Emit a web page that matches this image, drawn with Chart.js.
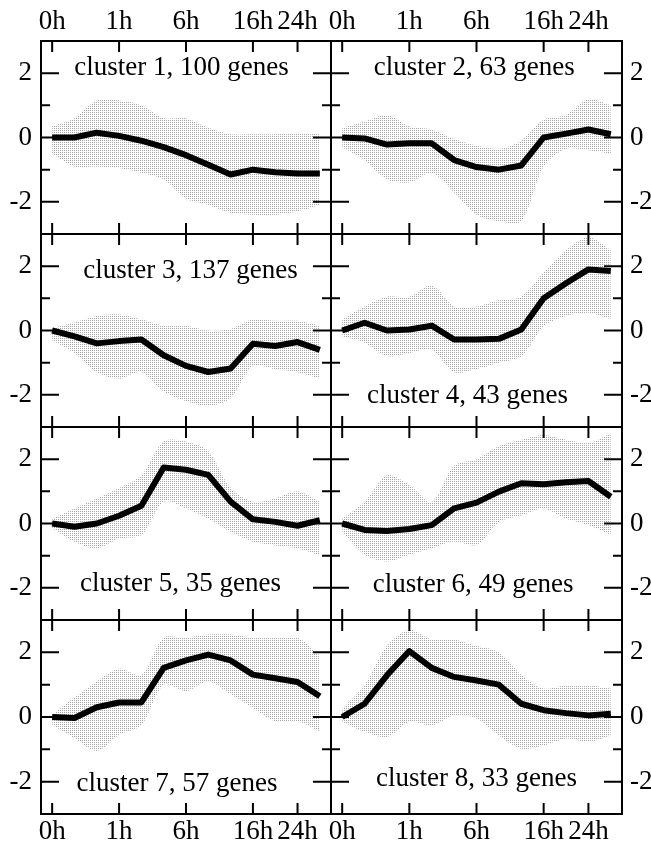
<!DOCTYPE html>
<html>
<head>
<meta charset="utf-8">
<script src="https://cdn.jsdelivr.net/npm/chart.js"></script>
<style>
  body { margin: 0; background: #fff; }
  #wrap { position: relative; width: 651px; height: 848px; overflow: hidden; background: #fff; }
  #wrap canvas { position: absolute; }
</style>
</head>
<body>
<div id="wrap"></div>
<script>
// time points: only some of them carry a label on the axis
const timeLabels = ["0h", "", "", "1h", "", "", "6h", "", "", "16h", "", "24h", ""];
const yTicks = [-2, 0, 2];
const yMinor = [-1, 1];

const clusterNames = [
  "cluster 1, 100 genes", "cluster 2, 63 genes",
  "cluster 3, 137 genes", "cluster 4, 43 genes",
  "cluster 5, 35 genes", "cluster 6, 49 genes",
  "cluster 7, 57 genes", "cluster 8, 33 genes"
];

// mean profile (thick line) and spread of member genes (stippled band)
const c1Mean = [0, 0, 0.15, 0.05, -0.1, -0.3, -0.55, -0.85, -1.15, -1.0, -1.08, -1.12, -1.12];
const c1High = [0.35, 0.6, 1.15, 1.15, 1.0, 0.6, 0.6, 0.3, 0.1, 0.1, 0.1, 0.15, 0.1];
const c1Low  = [-0.5, -0.9, -0.9, -0.95, -1.1, -1.3, -1.9, -2.1, -2.35, -2.4, -2.4, -2.3, -2.1];

const c2Mean = [0, -0.03, -0.22, -0.18, -0.18, -0.7, -0.92, -1.0, -0.87, 0, 0.12, 0.25, 0.1];
const c2High = [0.3, 0.5, 0.7, 0.35, 0.25, -0.05, -0.25, -0.35, -0.1, 0.55, 0.7, 1.2, 1.0];
const c2Low  = [-0.3, -0.7, -1.3, -1.4, -1.1, -1.7, -2.4, -2.6, -2.6, -0.9, -0.35, -0.4, -0.5];

const c3Mean = [0, -0.18, -0.4, -0.33, -0.28, -0.77, -1.1, -1.29, -1.18, -0.41, -0.48, -0.36, -0.6];
const c3High = [0.08, 0.25, 0.45, 0.5, 0.35, 0.15, 0.15, 0.0, 0.05, 0.35, 0.3, 0.3, 0.15];
const c3Low  = [-0.3, -0.7, -1.3, -1.5, -1.3, -1.9, -2.2, -2.35, -2.1, -1.1, -1.2, -1.3, -1.5];

const c4Mean = [0, 0.24, 0, 0.03, 0.15, -0.28, -0.28, -0.26, 0.03, 1.0, 1.47, 1.9, 1.85];
const c4High = [0.35, 0.75, 1.05, 1.05, 1.4, 0.75, 0.75, 0.95, 1.05, 1.8, 2.5, 2.9, 2.5];
const c4Low  = [-0.18, -0.38, -0.8, -0.7, -0.6, -1.3, -1.2, -1.0, -0.8, 0.13, 0.45, 0.55, 0.35];

const c5Mean = [0, -0.1, 0, 0.24, 0.55, 1.74, 1.67, 1.51, 0.68, 0.13, 0.05, -0.07, 0.1];
const c5High = [0.15, 0.47, 0.78, 1.1, 1.5, 2.55, 2.55, 2.25, 1.1, 0.68, 0.78, 1.0, 0.68];
const c5Low  = [-0.15, -0.57, -0.78, -0.47, -0.36, 0.68, 0.47, 0.15, -0.26, -0.57, -0.68, -0.78, -1.0];

const c6Mean = [0, -0.2, -0.23, -0.17, -0.05, 0.47, 0.65, 0.99, 1.25, 1.22, 1.28, 1.32, 0.83];
const c6High = [0.15, 0.67, 1.5, 1.2, 0.67, 1.8, 2.0, 2.4, 2.6, 2.75, 2.6, 2.5, 2.8];
const c6Low  = [-0.25, -0.97, -1.18, -0.97, -0.77, -0.56, -0.67, 0.05, 0.25, 0.46, 0.15, -0.05, -0.36];

const c7Mean = [0, -0.03, 0.3, 0.45, 0.45, 1.52, 1.75, 1.93, 1.75, 1.31, 1.2, 1.08, 0.64];
const c7High = [0.07, 0.6, 1.1, 1.5, 1.3, 2.45, 2.45, 2.55, 2.55, 2.45, 2.45, 2.45, 1.9];
const c7Low  = [-0.25, -0.65, -1.05, -0.55, -0.25, 1.0, 0.8, 1.1, 0.7, 0.28, -0.13, -0.13, -0.45];

const c8Mean = [0, 0.41, 1.29, 2.04, 1.52, 1.24, 1.13, 1.0, 0.41, 0.21, 0.12, 0.05, 0.1];
const c8High = [0.25, 0.98, 2.2, 2.7, 2.4, 2.4, 2.2, 2.0, 1.3, 0.88, 0.98, 0.98, 0.88];
const c8Low  = [-0.15, -0.46, -0.62, -0.15, -0.26, 0.05, -0.05, -0.57, -0.98, -0.88, -0.67, -0.77, -0.57];

const means = [c1Mean, c2Mean, c3Mean, c4Mean, c5Mean, c6Mean, c7Mean, c8Mean];
const highs = [c1High, c2High, c3High, c4High, c5High, c6High, c7High, c8High];
const lows = [c1Low, c2Low, c3Low, c4Low, c5Low, c6Low, c7Low, c8Low];

// where the cluster caption sits, in axis units (x index, y value of baseline)
const captionAt = [
  [5.8, 1.94], [5.9, 1.94],
  [6.2, 1.63], [5.6, -2.26],
  [5.75, -2.11], [5.85, -2.14],
  [5.6, -2.29], [6.0, -2.12]
];

const FONT = "'Liberation Serif', 'Times New Roman', serif";
Chart.defaults.font.family = FONT;
Chart.defaults.font.size = 27;
Chart.defaults.color = "#000";

const rowEdges = [41, 234, 427, 620, 814];
const cols = [
  { left: 0, width: 336, plotLeft: 41, plotRight: 331 },
  { left: 326, width: 325, plotLeft: 331, plotRight: 622 }
];

function stipple() {
  const c = document.createElement("canvas");
  c.width = 2;
  c.height = 2;
  const g = c.getContext("2d");
  g.fillStyle = "#a6a6a6";
  g.fillRect(0, 0, 1, 1);
  return g.createPattern(c, "repeat");
}

const framePlugin = {
  id: "frame",
  afterDraw(chart) {
    const ctx = chart.ctx;
    const a = chart.chartArea;
    const xs = chart.scales.x;
    const ys = chart.scales.y;
    ctx.save();
    ctx.strokeStyle = "#000";
    ctx.lineWidth = 2;
    ctx.strokeRect(a.left, a.top, a.right - a.left, a.bottom - a.top);

    ctx.beginPath();
    timeLabels.forEach((lab, i) => {
      if (!lab) return;
      const px = xs.getPixelForValue(i);
      ctx.moveTo(px, a.top);
      ctx.lineTo(px, a.top + 11);
      ctx.moveTo(px, a.bottom);
      ctx.lineTo(px, a.bottom - 11);
    });
    yTicks.forEach(v => {
      const py = ys.getPixelForValue(v);
      ctx.moveTo(a.left, py);
      ctx.lineTo(a.left + 18, py);
      ctx.moveTo(a.right, py);
      ctx.lineTo(a.right - 18, py);
    });
    yMinor.forEach(v => {
      const py = ys.getPixelForValue(v);
      ctx.moveTo(a.left, py);
      ctx.lineTo(a.left + 9, py);
      ctx.moveTo(a.right, py);
      ctx.lineTo(a.right - 9, py);
    });
    ctx.stroke();

    const k = chart.options.plugins.frame.panel;
    ctx.fillStyle = "#000";
    ctx.font = "27px " + FONT;
    ctx.textAlign = "center";
    ctx.textBaseline = "alphabetic";
    ctx.fillText(clusterNames[k], xs.getPixelForValue(captionAt[k][0]), ys.getPixelForValue(captionAt[k][1]));
    ctx.restore();
  }
};

const wrap = document.getElementById("wrap");

for (let k = 0; k < 8; k++) {
  const row = Math.floor(k / 2);
  const col = k % 2;
  const c = cols[col];
  const top = rowEdges[row];
  const bottom = rowEdges[row + 1];
  const showX = row === 0 || row === 3;

  let canvasTop, canvasHeight, padTop, padBottom;
  if (row === 0) {
    canvasTop = 0; padTop = top - 38; padBottom = 6;
    canvasHeight = bottom + 6;
  } else if (row === 3) {
    canvasTop = top - 6; padTop = 6; padBottom = 0;
    canvasHeight = 848 - canvasTop;
  } else {
    canvasTop = top - 6; padTop = 6; padBottom = 6;
    canvasHeight = bottom - top + 12;
  }

  let padLeft, padRight;
  if (col === 0) {
    padLeft = c.plotLeft - c.left - 40;
    padRight = c.left + c.width - c.plotRight;
  } else {
    padLeft = c.plotLeft - c.left;
    padRight = c.left + c.width - c.plotRight - 29;
  }

  const canvas = document.createElement("canvas");
  canvas.width = c.width;
  canvas.height = canvasHeight;
  canvas.style.left = c.left + "px";
  canvas.style.top = canvasTop + "px";
  wrap.appendChild(canvas);

  new Chart(canvas.getContext("2d"), {
    type: "line",
    data: {
      labels: timeLabels,
      datasets: [
        {
          data: means[k],
          borderColor: "#000",
          borderWidth: 6,
          borderJoinStyle: "round",
          pointRadius: 0,
          tension: 0,
          fill: false
        },
        {
          data: highs[k],
          borderColor: "rgba(0,0,0,0)",
          borderWidth: 1,
          pointRadius: 0,
          tension: 0.3,
          backgroundColor: stipple(),
          fill: "+1"
        },
        {
          data: lows[k],
          borderColor: "rgba(0,0,0,0)",
          borderWidth: 1,
          pointRadius: 0,
          tension: 0.3,
          fill: false
        }
      ]
    },
    options: {
      responsive: false,
      animation: false,
      events: [],
      layout: { padding: { left: padLeft, right: padRight, top: padTop, bottom: padBottom } },
      plugins: {
        legend: { display: false },
        tooltip: { enabled: false },
        frame: { panel: k }
      },
      scales: {
        x: {
          type: "category",
          offset: true,
          display: showX,
          position: row === 0 ? "top" : "bottom",
          grid: { display: false, drawTicks: false },
          border: { display: false },
          ticks: { autoSkip: false, maxRotation: 0, padding: row === 0 ? 3 : 2 },
          afterFit(scale) {
            scale.height = showX ? (row === 0 ? 38 : 34) : 0;
            scale.paddingLeft = 0;
            scale.paddingRight = 0;
          }
        },
        y: {
          type: "linear",
          min: -3,
          max: 3,
          position: col === 0 ? "left" : "right",
          grid: { display: false, drawTicks: false },
          border: { display: false },
          afterBuildTicks(scale) { scale.ticks = yTicks.map(v => ({ value: v })); },
          ticks: { padding: col === 0 ? 9 : 8, callback: v => String(v) },
          afterFit(scale) {
            scale.width = col === 0 ? 40 : 29;
            scale.paddingTop = 0;
            scale.paddingBottom = 0;
          }
        }
      }
    },
    plugins: [framePlugin]
  });
}
</script>
</body>
</html>
